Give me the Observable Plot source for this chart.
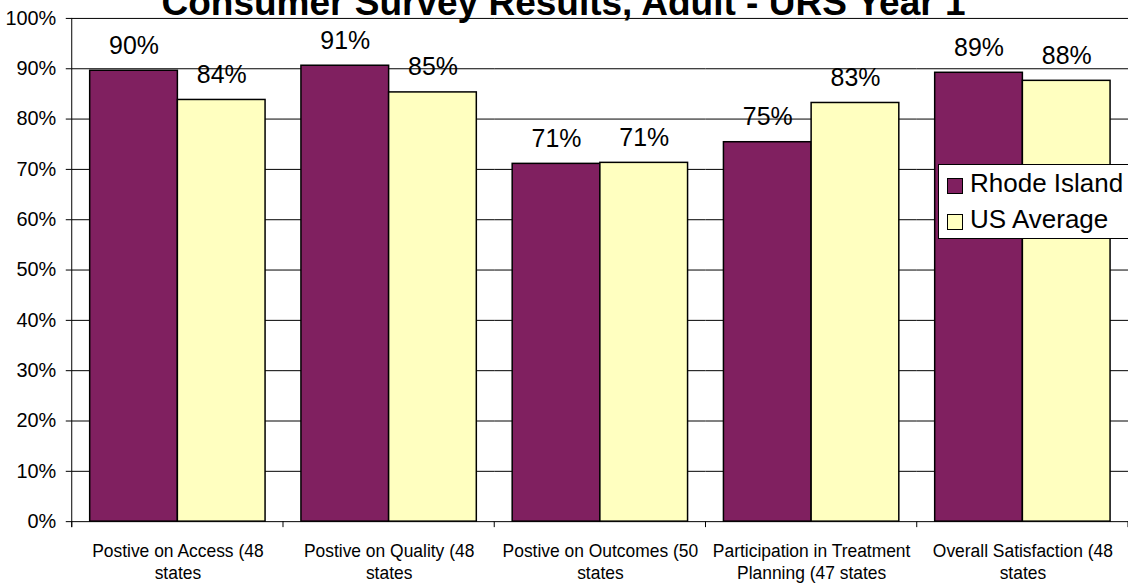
<!DOCTYPE html>
<html><head><meta charset="utf-8">
<script src="https://cdn.jsdelivr.net/npm/d3@7"></script>
<script src="https://cdn.jsdelivr.net/npm/@observablehq/plot@0.6"></script>
<style>
html,body{margin:0;padding:0;background:#fff;overflow:hidden;width:1128px;height:583px;}
#wrap{position:relative;width:1128px;height:583px;overflow:hidden;font-family:"Liberation Sans",Arial,sans-serif;}
#chart{position:absolute;left:0;top:0;}
#title{position:absolute;left:0;top:-16px;width:1127px;text-align:center;font-weight:bold;font-size:37px;line-height:37px;white-space:nowrap;color:#000;}
#legend{position:absolute;left:938px;top:164px;width:200px;height:73px;border:1px solid #000;background:#fff;}
#legend .row{position:absolute;left:0;height:36px;line-height:36px;font-size:26px;white-space:nowrap;color:#000;}
#legend .sw{position:absolute;left:8px;width:14px;height:14px;border:1px solid #000;}
#legend .lab{position:absolute;left:31px;top:0;}
</style>
</head><body>
<div id="wrap">
  <div id="chart"></div>
  <div id="title">Consumer Survey Results, Adult - URS Year 1</div>
  <div id="legend"></div>
</div>
<script>
const categories = [
  "Postive on Access (48\nstates",
  "Postive on Quality (48\nstates",
  "Postive on Outcomes (50\nstates",
  "Participation in Treatment\nPlanning (47 states",
  "Overall Satisfaction (48\nstates"
];
const series = ["Rhode Island", "US Average"];
const colors = ["#802060", "#FFFFC0"];
const rhodeIsland = [0.896, 0.906, 0.711, 0.754, 0.892];
const usAverage   = [0.838, 0.853, 0.713, 0.832, 0.876];
const yTicks = [0, 0.1, 0.2, 0.3, 0.4, 0.5, 0.6, 0.7, 0.8, 0.9, 1.0];

const rows = categories.flatMap((c, i) => [
  {cat: c, series: series[0], value: rhodeIsland[i]},
  {cat: c, series: series[1], value: usAverage[i]}
]);
const fmt = d3.format(".0%");

const chart = Plot.plot({
  width: 1132, height: 583,
  marginTop: 18, marginBottom: 60, marginLeft: 72, marginRight: 0,
  style: {fontFamily: "'Liberation Sans', Arial, sans-serif", color: "#000", background: "transparent", overflow: "visible"},
  fx: {domain: categories, padding: 0, label: null},
  x: {domain: series, paddingInner: 0, paddingOuter: 0.2, axis: null},
  y: {domain: [0, 1], label: null},
  color: {domain: series, range: colors},
  marks: [
    Plot.ruleY(yTicks, {stroke: "#000", strokeWidth: 1}),
    Plot.barY(rows, {fx: "cat", x: "series", y: "value", fill: "series", stroke: "#000", strokeWidth: 1.5}),
    Plot.text(rows, {fx: "cat", x: "series", y: "value", text: d => fmt(d.value), fontSize: 25, dy: -17, lineAnchor: "bottom", fill: "#000"}),
    Plot.axisY({ticks: yTicks, tickFormat: fmt, tickSize: 6, tickPadding: 10, fontSize: 20, label: null, stroke: "#000", fill: "#000"}),
    Plot.axisFx({anchor: "bottom", tickSize: 0, tickPadding: 20, fontSize: 17.5, lineHeight: 1.26, label: null, fill: "#000", tickFormat: d => d})
  ]
});
document.getElementById("chart").appendChild(chart);

// axis line and category boundary ticks derived from the library's scales
const fxs = chart.scale("fx");
const ys = chart.scale("y");
const svg = d3.select(chart);
const y0 = ys.apply(0), y1 = ys.apply(1);
const bounds = categories.map(c => fxs.apply(c)).concat([fxs.apply(categories[categories.length - 1]) + fxs.bandwidth]);
const g = svg.append("g").attr("stroke", "#000").attr("stroke-width", 1);
g.append("line").attr("x1", bounds[0]).attr("x2", bounds[0]).attr("y1", y1).attr("y2", y0 + 6);
bounds.forEach(b => g.append("line").attr("x1", b).attr("x2", b).attr("y1", y0).attr("y2", y0 + 6));

// legend
const leg = document.getElementById("legend");
series.forEach((s, i) => {
  const row = document.createElement("div");
  row.className = "row";
  row.style.top = (i * 36) + "px";
  row.style.width = "200px";
  const sw = document.createElement("span");
  sw.className = "sw";
  sw.style.background = colors[i];
  sw.style.top = "13px";
  const lab = document.createElement("span");
  lab.className = "lab";
  lab.textContent = s;
  row.appendChild(sw); row.appendChild(lab);
  leg.appendChild(row);
});
</script>
</body></html>
